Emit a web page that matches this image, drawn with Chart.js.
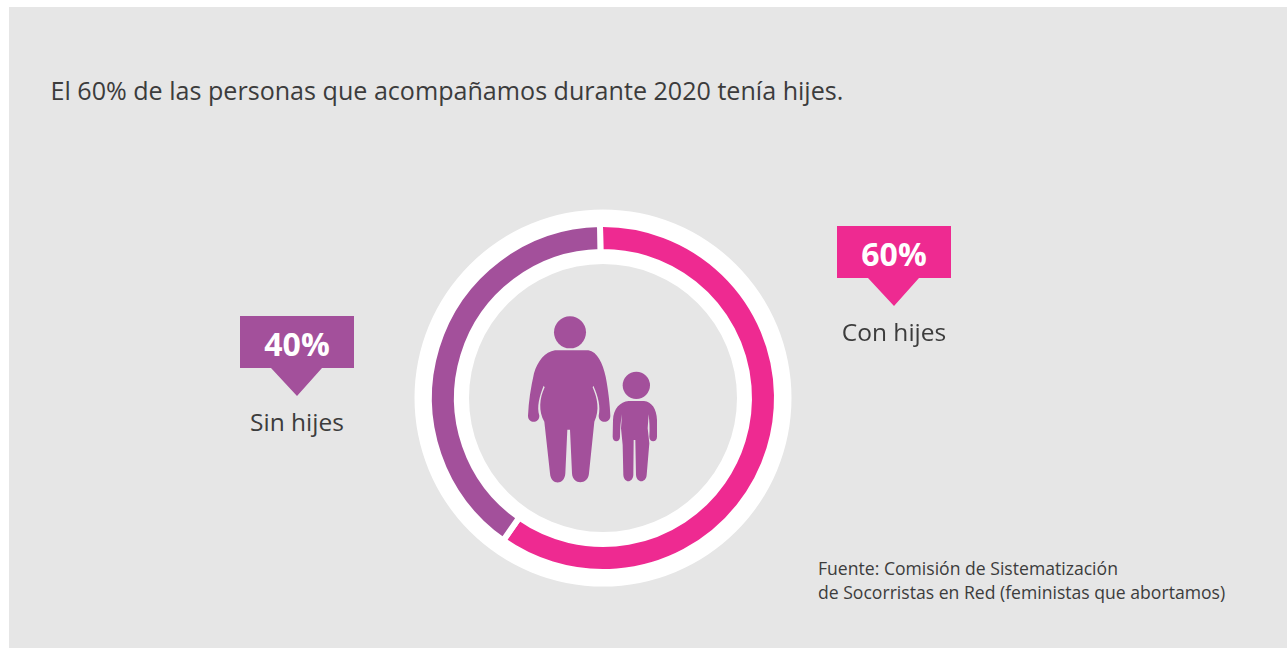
<!DOCTYPE html>
<html>
<head>
<meta charset="utf-8">
<script src="https://cdn.jsdelivr.net/npm/chart.js@4"></script>
<style>
  html, body { margin: 0; padding: 0; background: #fff; overflow: hidden; }
  body { width: 1287px; height: 648px; position: relative; font-family: "Open Sans", sans-serif; color: #3c3c3c; }
  #panel { position: absolute; left: 9px; top: 7px; right: 0; bottom: 0; background: #e6e6e6; }
  #ring { position: absolute; left: 403px; top: 198px; }
  #icon { position: absolute; left: 510px; top: 305px; }
  .abs { position: absolute; white-space: nowrap; }
  #title { left: 50.5px; top: 72px; font-size: 25.1px; line-height: 36px; }
  #source { left: 818px; top: 556px; font-size: 17.6px; line-height: 24px; }
  .callout { position: absolute; width: 114px; height: 80px; }
  .callout .pct { position: absolute; left: 0; top: 8px; width: 114px; text-align: center; color: #fff; font-weight: 700; font-size: 32px; line-height: 40px; }
  .callout .name { position: absolute; left: -43px; top: 88px; width: 200px; text-align: center; font-size: 24.5px; line-height: 36px; }
  .callout svg { position: absolute; left: 0; top: 0; }
</style>
</head>
<body>
<div id="panel"></div>
<canvas id="ring" width="400" height="400"></canvas>
<svg id="icon" width="160" height="190" viewBox="0 0 480 570" fill="#a3509b">
  <circle cx="180" cy="82" r="48"/>
  <path d="M135 136 L235 136 C262 140 278 175 287 215 C295 255 300 300 301 332 C301 356 266 356 266 332 C272 305 265 275 250 242 L248 247 C262 280 270 315 253 350 L237 505 C235 540 188 542 186 505 L180 374 L172 374 L166 505 C164 542 122 542 120 505 L103 350 C85 320 88 280 104 247 L101 242 C88 275 80 305 88 332 C88 356 54 356 54 332 C56 290 62 250 72 205 C82 170 105 140 135 136 Z"/>
  <circle cx="379" cy="241" r="41"/>
  <path d="M356 288 L402 288 C425 290 440 312 441 345 L441 395 C441 413 418 413 418 395 C420 370 418 350 416 328 L413 370 L418 415 L410 510 C408 535 380 535 378 510 L376 405 L371 405 L370 510 C368 535 342 535 340 510 L338 420 L333 370 L336 328 C332 350 330 370 330 395 C330 413 308 413 308 395 L309 345 C310 312 330 290 356 288 Z"/>
</svg>
<div id="title" class="abs">El 60% de las personas que acompañamos durante 2020 tenía hijes.</div>
<div id="source" class="abs">Fuente: Comisión de Sistematización<br>de Socorristas en Red (feministas que abortamos)</div>
<script>
const categories = ['Con hijes', 'Sin hijes']
const values = [60, 40]
const colors = ['#ee2a91', '#a3509b']
const calloutSpots = [[837, 226], [240, 316]]

// white band that sits behind the coloured ring
const whiteBand = {
  id: 'whiteBand',
  beforeDatasetsDraw(chart) {
    const arc = chart.getDatasetMeta(0).data[0]
    const ctx = chart.ctx
    ctx.save()
    ctx.fillStyle = '#fff'
    ctx.beginPath()
    ctx.arc(arc.x, arc.y, 188.5, 0, Math.PI * 2)
    ctx.arc(arc.x, arc.y, 134, 0, Math.PI * 2, true)
    ctx.fill()
    ctx.restore()
  }
}

new Chart(document.getElementById('ring'), {
  type: 'doughnut',
  data: {
    labels: categories,
    datasets: [{
      data: values,
      backgroundColor: colors,
      // the white stroke makes the gaps and trims the ring to 149-171px
      borderColor: '#fff',
      borderWidth: 6
    }]
  },
  options: {
    responsive: false,
    animation: false,
    radius: 174,
    cutout: '83.9%',
    rotation: -1,
    plugins: { legend: { display: false }, tooltip: { enabled: false } }
  },
  plugins: [whiteBand]
})

categories.forEach((name, i) => {
  const box = document.createElement('div')
  box.className = 'callout'
  box.style.left = calloutSpots[i][0] + 'px'
  box.style.top = calloutSpots[i][1] + 'px'
  box.innerHTML = '<svg width="114" height="80"><polygon fill="' + colors[i] + '" points="0,0 114,0 114,52 82,52 57,80 31,52 0,52"/></svg>' +
    '<div class="pct">' + values[i] + '%</div><div class="name">' + name + '</div>'
  document.body.appendChild(box)
})
</script>
</body>
</html>
